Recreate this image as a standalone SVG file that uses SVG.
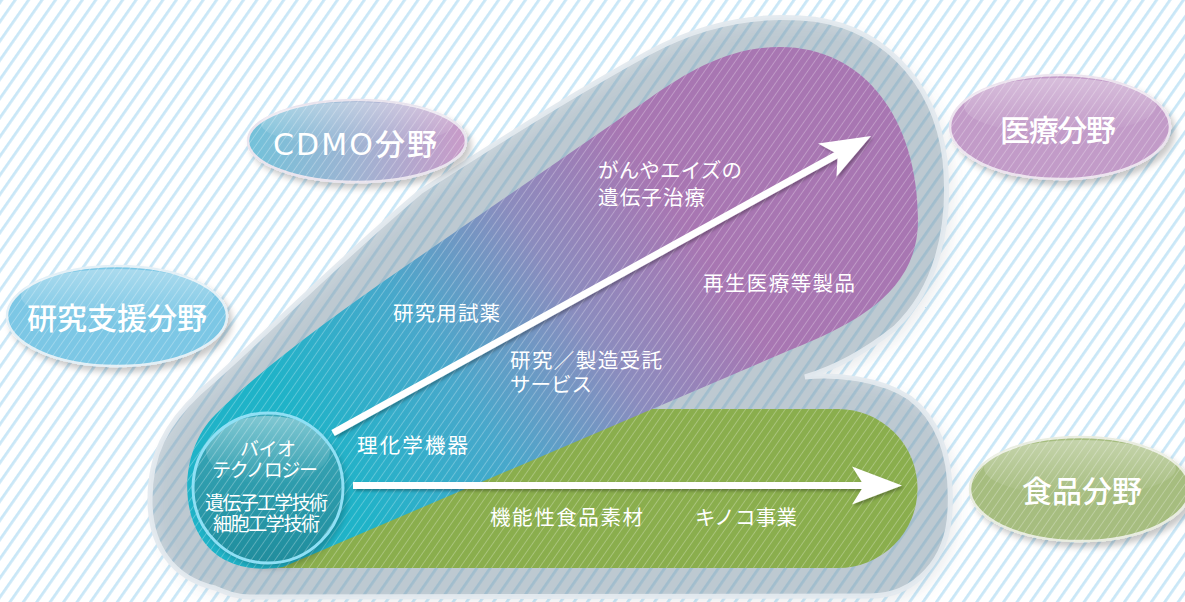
<svg xmlns="http://www.w3.org/2000/svg" xmlns:xlink="http://www.w3.org/1999/xlink" width="1185" height="602" viewBox="0 0 1185 602">
<style>
.t{font-family:"Noto Sans CJK JP","Noto Sans",sans-serif;fill:#fff}
.s{font-size:20.5px}
.c{font-size:19px;text-anchor:middle}
.o{font-size:30px;text-anchor:middle;font-weight:500}
.lat{font-family:"DejaVu Sans","Noto Sans CJK JP",sans-serif;font-weight:normal}
.arr{stroke:#fff;stroke-width:7;fill:none;marker-end:url(#ah)}
</style>
<defs>
<pattern id="bgs" width="11" height="20" patternUnits="userSpaceOnUse" patternTransform="rotate(35)">
<rect width="11" height="20" fill="#fff"/><rect width="2.8" height="20" fill="#c9e7f7"/>
</pattern>
<pattern id="hatch" width="6.5" height="20" patternUnits="userSpaceOnUse" patternTransform="rotate(35)">
<rect width="0.9" height="20" fill="#fff" fill-opacity="0.28"/>
</pattern>
<linearGradient id="band" gradientUnits="userSpaceOnUse" x1="330" y1="470" x2="690" y2="230">
<stop offset="0" stop-color="#1fb3c8"/><stop offset="0.35" stop-color="#48a8cb"/><stop offset="0.68" stop-color="#8b8cbe"/><stop offset="1" stop-color="#a876b2"/>
</linearGradient>
<linearGradient id="cdmo" x1="0" y1="0" x2="1" y2="0">
<stop offset="0" stop-color="#72c2da"/><stop offset="0.5" stop-color="#9fb3d2"/><stop offset="1" stop-color="#c99ac8"/>
</linearGradient>
<linearGradient id="circ" x1="0" y1="0" x2="0" y2="1">
<stop offset="0" stop-color="#3caabb"/><stop offset="1" stop-color="#1f8d9d"/>
</linearGradient>
<linearGradient id="gloss" x1="0" y1="0" x2="0" y2="1">
<stop offset="0" stop-color="#fff" stop-opacity="0.35"/><stop offset="1" stop-color="#fff" stop-opacity="0"/>
</linearGradient>
<filter id="sh" x="-20%" y="-20%" width="140%" height="140%">
<feDropShadow dx="4" dy="5" stdDeviation="3" flood-color="#000" flood-opacity="0.22"/>
</filter>
<filter id="bsh" x="-10%" y="-10%" width="125%" height="125%">
<feDropShadow dx="7" dy="7" stdDeviation="7" flood-color="#5a6a78" flood-opacity="0.28"/>
</filter>
<filter id="ash" filterUnits="userSpaceOnUse" x="0" y="0" width="1185" height="602">
<feDropShadow dx="2" dy="2" stdDeviation="1.5" flood-color="#000" flood-opacity="0.3"/>
</filter>
<marker id="ah" markerUnits="userSpaceOnUse" orient="auto" viewBox="-52 -21 54 42" markerWidth="54" markerHeight="42" refX="-36" refY="0">
<path d="M0,0 L-50,-19 L-38,0 L-50,19 Z" fill="#fff"/>
</marker>
<path id="blobP" d="M215,588 C172,578 150,545 150,500 C150,455 165,425 200,392 C250,350 330,268 420,192 C500,140 580,90 650,52 C700,25 750,15 800,18 C880,22 935,80 945,160 C952,230 935,290 895,328 C865,352 835,368 805,377 C835,374 880,378 910,398 C945,425 952,470 950,510 C948,560 915,596 870,596 L250,597 C235,597 225,592 215,588 Z"/>
<path id="greenP" d="M260,409 L838,409 A79.5 79.5 0 0 1 838,568 L260,568 Z"/>
<path id="bandP" d="M283,567 L790,350 C860,322 918,290 918,220 C918,120 865,47 780,47 C730,47 690,70 650,98 L400,270 C330,318 260,370 215,415 C175,455 178,535 225,560 C245,570 265,570 283,567 Z"/>
</defs>

<rect width="1185" height="602" fill="url(#bgs)"/>

<g id="blob">
<use href="#blobP" fill="#7d96a8" fill-opacity="0.42" filter="url(#bsh)"/>
<use href="#blobP" fill="none" stroke="#e3e9ee" stroke-width="5" stroke-opacity="0.95"/>
</g>

<g id="food-band">
<use href="#greenP" fill="#8aae4d"/>
<use href="#greenP" fill="url(#hatch)"/>
</g>

<g id="main-band">
<use href="#bandP" fill="url(#band)"/>
<use href="#bandP" fill="url(#hatch)"/>
</g>

<g id="connectors" filter="url(#ash)">
<line class="arr" x1="333" y1="433" x2="839.5" y2="153.4"/>
<line class="arr" x1="353" y1="485.5" x2="866" y2="485.5"/>
</g>

<g id="core">
<circle cx="268" cy="488" r="75" fill="url(#circ)" filter="url(#sh)"/>
<circle cx="268" cy="488" r="75" fill="url(#hatch)"/>
<ellipse cx="268" cy="450" rx="62" ry="34" fill="url(#gloss)"/>
<circle cx="268" cy="488" r="75" fill="none" stroke="#8fe0f5" stroke-width="3"/>
<text class="t c"><tspan x="268" y="456" textLength="56">バイオ</tspan><tspan x="265" y="477" textLength="106">テクノロジー</tspan><tspan x="266.5" y="510" textLength="123">遺伝子工学技術</tspan><tspan x="266.5" y="531" textLength="107">細胞工学技術</tspan></text>
</g>

<g id="cdmo-field">
<ellipse cx="357" cy="141" rx="109" ry="41" fill="url(#cdmo)" stroke="#e9e4ee" stroke-width="2.5" filter="url(#sh)"/>
<ellipse cx="357" cy="141" rx="109" ry="41" fill="url(#hatch)"/>
<ellipse cx="357" cy="124" rx="96" ry="22" fill="url(#gloss)"/>
<text class="t o" x="355" y="155" textLength="164" font-size="29"><tspan class="lat">CDMO</tspan>分野</text>
</g>

<g id="research-field">
<ellipse cx="117" cy="316" rx="110" ry="50" fill="#7bc7e5" stroke="#e2eff6" stroke-width="2.5" filter="url(#sh)"/>
<ellipse cx="117" cy="316" rx="110" ry="50" fill="url(#hatch)"/>
<ellipse cx="117" cy="296" rx="96" ry="27" fill="url(#gloss)"/>
<text class="t o" x="117" y="329" textLength="180">研究支援分野</text>
</g>

<g id="medical-field">
<ellipse cx="1060" cy="127" rx="110" ry="52" fill="#c29bc8" stroke="#ece3ee" stroke-width="2.5" filter="url(#sh)"/>
<ellipse cx="1060" cy="127" rx="110" ry="52" fill="url(#hatch)"/>
<ellipse cx="1060" cy="106" rx="96" ry="28" fill="url(#gloss)"/>
<text class="t o" x="1058" y="141" textLength="116">医療分野</text>
</g>

<g id="food-field">
<ellipse cx="1080" cy="489" rx="110" ry="52" fill="#a6bd7f" stroke="#e8ecdf" stroke-width="2.5" filter="url(#sh)"/>
<ellipse cx="1080" cy="489" rx="110" ry="52" fill="url(#hatch)"/>
<ellipse cx="1080" cy="468" rx="96" ry="28" fill="url(#gloss)"/>
<text class="t o" x="1082" y="502" textLength="120">食品分野</text>
</g>

<g id="labels">
<text class="t s"><tspan x="598" y="178" textLength="144">がんやエイズの</tspan><tspan x="598" y="205" textLength="107">遺伝子治療</tspan></text>
<text class="t s" x="703" y="291" textLength="152">再生医療等製品</text>
<text class="t s" x="393" y="321" textLength="107">研究用試薬</text>
<text class="t s"><tspan x="510" y="368" textLength="152">研究／製造受託</tspan><tspan x="510" y="392" textLength="82">サービス</tspan></text>
<text class="t s" x="357" y="453" textLength="111">理化学機器</text>
<text class="t s" x="490" y="525" textLength="153">機能性食品素材</text>
<text class="t s" x="695" y="525" textLength="102">キノコ事業</text>
</g>
</svg>
